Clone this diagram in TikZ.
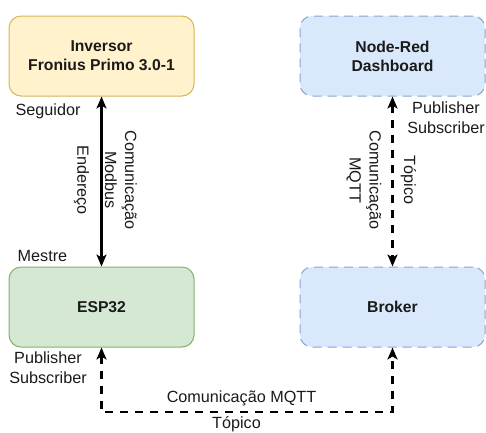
\documentclass[tikz,border=0pt]{standalone}
\usepackage{fontspec}
\setmainfont{Liberation Sans}
\usetikzlibrary{arrows.meta}
\definecolor{yfill}{HTML}{FFF2CC}\definecolor{ydraw}{HTML}{D6B656}
\definecolor{gfill}{HTML}{D5E8D4}\definecolor{gdraw}{HTML}{82B366}
\definecolor{bfill}{HTML}{DAE8FC}\definecolor{bdraw}{HTML}{6C8EBF}
\definecolor{txt}{HTML}{1A1A1A}
\tikzset{
  box/.style={rounded corners=12pt, minimum width=185pt, minimum height=80pt, line width=1pt,
    align=center, font=\fontsize{15.7}{19}\selectfont\bfseries, text=txt, inner sep=0pt},
  ybox/.style={box, fill=yfill, draw=ydraw},
  gbox/.style={box, fill=gfill, draw=gdraw},
  bbox/.style={box, fill=bfill, draw=bdraw!80, dash pattern=on 9pt off 6pt},
  lbl/.style={font=\fontsize{16.2}{20}\selectfont, text=txt, align=center, inner sep=0pt},
  solidc/.style={line width=2.3pt, {Stealth[length=12pt, width=10pt, inset=3pt]}-{Stealth[length=12pt, width=10pt, inset=3pt]}},
  dashc/.style={line width=2.3pt, dash pattern=on 8pt off 7pt, {Stealth[length=12pt, width=10pt, inset=3pt]}-{Stealth[length=12pt, width=10pt, inset=3pt]}},
}
\begin{document}
\begin{tikzpicture}[x=1pt, y=-1pt]
\useasboundingbox (0,0) rectangle (486,432);
\node[ybox] (inv) at (101.5,56) {Inversor\\Fronius Primo 3.0-1};
\node[bbox] (nr) at (392.5,56) {Node-Red\\Dashboard};
\node[gbox] (esp) at (101.5,307) {ESP32};
\node[bbox] (brk) at (392.5,307) {Broker};
\coordinate (c1) at (101.5,412);
\coordinate (c2) at (392.5,412);
\draw[solidc] (inv.south) -- (esp.north);
\draw[dashc] (nr.south) -- (brk.north);
\draw[dashc] (esp.south) -- (c1) -- (c2) -- (brk.south);
\node[lbl] (seg) at (48,111) {Seguidor};
\node[lbl] (mes) at (42.5,256) {Mestre};
\node[lbl, rotate=-90] (cmod) at (121,180) {Comunicação\\Modbus};
\node[lbl, rotate=-90] (end) at (81.5,180) {Endereço};
\node[lbl, rotate=-90] (cmqtt) at (364,180) {Comunicação\\MQTT};
\node[lbl, rotate=-90] (top1) at (408.5,180) {Tópico};
\node[lbl] (ps1) at (446,118) {Publisher\\Subscriber};
\node[lbl] (ps2) at (48,368) {Publisher\\Subscriber};
\node[lbl] (cm2) at (241.5,398) {Comunicação MQTT};
\node[lbl] (top2) at (236.5,424.5) {Tópico};
\end{tikzpicture}
\end{document}
